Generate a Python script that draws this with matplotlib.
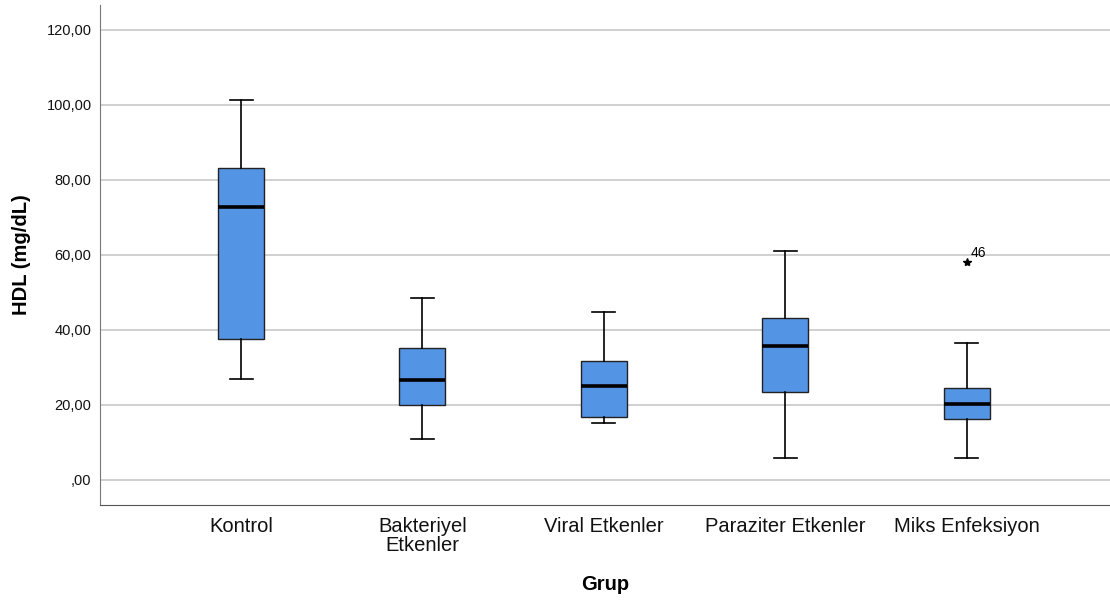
import matplotlib
matplotlib.use("Agg")
import matplotlib.pyplot as plt

# group names and box statistics (HDL, mg/dL)
groups = ["Kontrol", "Bakteriyel\nEtkenler", "Viral Etkenler",
          "Paraziter Etkenler", "Miks Enfeksiyon"]
whisker_low = [26.9, 10.9, 15.2, 5.9, 5.9]
q1 = [37.5, 20.0, 16.8, 23.5, 16.2]
median = [72.8, 26.7, 25.1, 35.7, 20.3]
q3 = [83.1, 35.2, 31.7, 43.2, 24.6]
whisker_high = [101.3, 48.5, 44.8, 61.1, 36.6]
outliers = [[], [], [], [], [58.0]]
outlier_ids = [[], [], [], [], ["46"]]

plt.rcParams["font.family"] = ["Liberation Sans", "DejaVu Sans"]

fig = plt.figure(figsize=(11.10, 6.01), dpi=100)
ax = fig.add_axes([0.09, 0.16, 0.91, 0.832])

stats = []
for i, g in enumerate(groups):
    stats.append({
        "label": g,
        "whislo": whisker_low[i],
        "q1": q1[i],
        "med": median[i],
        "q3": q3[i],
        "whishi": whisker_high[i],
        "fliers": [],
    })

positions = list(range(len(groups)))
ax.bxp(
    stats,
    positions=positions,
    widths=0.254,
    capwidths=0.127,
    patch_artist=True,
    showfliers=False,
    boxprops=dict(facecolor="#5494e4", edgecolor="#222222", linewidth=1.0),
    medianprops=dict(color="black", linewidth=2.6),
    whiskerprops=dict(color="black", linewidth=1.2),
    capprops=dict(color="black", linewidth=1.2),
    zorder=3,
)

# extreme values marked with a star and case number
for i, vals in enumerate(outliers):
    for v, lab in zip(vals, outlier_ids[i]):
        ax.plot(positions[i], v, marker="*", color="black", markersize=6,
                linestyle="none", zorder=4)
        ax.annotate(lab, (positions[i], v), xytext=(3, 4),
                    textcoords="offset points", fontsize=10, zorder=4)

ax.set_xlim(-0.778, 4.79)
ax.set_ylim(-6.67, 126.7)
ax.set_yticks([0, 20, 40, 60, 80, 100, 120])
ax.set_yticklabels([",00", "20,00", "40,00", "60,00", "80,00", "100,00", "120,00"])
ax.yaxis.grid(True, color="#c8c8c8", linewidth=1.2, zorder=0)
ax.set_axisbelow(True)

ax.set_xticks(positions)
ax.set_xticklabels(groups, fontsize=14.5, linespacing=1.0)
ax.tick_params(axis="x", length=0, pad=9, colors="#111111")
ax.tick_params(axis="y", length=0, pad=6, labelsize=10.5, colors="#111111")

for side in ["top", "right"]:
    ax.spines[side].set_visible(False)
ax.spines["left"].set_color("#777777")
ax.spines["bottom"].set_color("#555555")

ax.set_ylabel("HDL (mg/dL)", fontsize=14.5, fontweight="bold", labelpad=11)
ax.set_xlabel("Grup", fontsize=14.5, fontweight="bold", labelpad=14)

fig.savefig("out.png", dpi=100)
